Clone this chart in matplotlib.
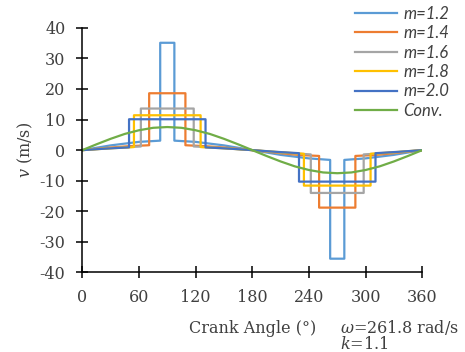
import matplotlib
matplotlib.use("Agg")
import matplotlib.pyplot as plt

plt.rcParams['font.family'] = ['DejaVu Serif']
plt.rcParams['mathtext.fontset'] = 'dejavuserif'
plt.rcParams['axes.unicode_minus'] = False

# crank angle (deg) and velocity (m/s) for each curve
ang_12 = [0, 30, 60, 82.5, 82.5, 97.5, 97.5, 120, 150, 180,
          210, 240, 262.5, 262.5, 277.5, 277.5, 300, 330, 360]
vel_12 = [0, 1.55, 2.7, 3.1, 35.1, 35.1, 3.1, 2.7, 1.55, 0,
          -1.55, -2.7, -3.2, -35.5, -35.5, -3.2, -2.7, -1.55, 0]

ang_14 = [0, 30, 50, 70.8, 70.8, 109.2, 109.2, 130, 150, 180,
          210, 230, 250.8, 250.8, 289.2, 289.2, 310, 330, 360]
vel_14 = [0, 0.85, 1.3, 1.6, 18.6, 18.6, 1.6, 1.3, 0.85, 0,
          -1.0, -1.6, -1.9, -18.8, -18.8, -1.9, -1.6, -1.0, 0]

ang_16 = [0, 30, 62, 62, 118, 118, 150, 180,
          210, 242, 242, 298, 298, 330, 360]
vel_16 = [0, 0.68, 1.2, 13.6, 13.6, 1.2, 0.68, 0,
          -0.8, -1.4, -14.0, -14.0, -1.4, -0.8, 0]

ang_18 = [0, 30, 54.7, 54.7, 125.3, 125.3, 150, 180,
          210, 234.7, 234.7, 305.3, 305.3, 330, 360]
vel_18 = [0, 0.6, 1.0, 11.4, 11.4, 1.0, 0.6, 0,
          -0.7, -1.2, -11.6, -11.6, -1.2, -0.7, 0]

ang_20 = [0, 25, 49.5, 49.5, 130.5, 130.5, 155, 180,
          205, 229.5, 229.5, 310.5, 310.5, 335, 360]
vel_20 = [0, 0.5, 0.9, 10.1, 10.1, 0.9, 0.5, 0,
          -0.55, -1.0, -10.3, -10.3, -1.0, -0.55, 0]

ang_conv = list(range(0, 361, 15))
vel_conv = [0, 1.9, 3.7, 5.3, 6.5, 7.3, 7.55, 7.3, 6.5, 5.3, 3.7, 1.9, 0,
            -1.9, -3.7, -5.3, -6.5, -7.3, -7.55, -7.3, -6.5, -5.3, -3.7, -1.9, 0]

labels = ['m=1.2', 'm=1.4', 'm=1.6', 'm=1.8', 'm=2.0', 'Conv.']
colors = ['#5B9BD5', '#ED7D31', '#A5A5A5', '#FFC000', '#4472C4', '#70AD47']
x_ticks = [0, 60, 120, 180, 240, 300, 360]
y_ticks = [-40, -30, -20, -10, 0, 10, 20, 30, 40]

fig = plt.figure(figsize=(4.65, 3.52), dpi=100)
ax = fig.add_axes([0.177, 0.226, 0.731, 0.695])

series = [(ang_12, vel_12), (ang_14, vel_14), (ang_16, vel_16),
          (ang_18, vel_18), (ang_20, vel_20), (ang_conv, vel_conv)]
for (a, v), lab, c in zip(series, labels, colors):
    ax.plot(a, v, color=c, lw=1.6, label=lab)

ax.set_xlim(0, 360)
ax.set_ylim(-40, 40)
ax.set_xticks(x_ticks)
ax.set_yticks(y_ticks)
for s in ['top', 'right']:
    ax.spines[s].set_visible(False)
for s in ['left', 'bottom']:
    ax.spines[s].set_linewidth(1.1)
ax.tick_params(direction='inout', length=8.4, width=1.1, pad=8,
               labelsize=11.5, labelcolor='#404040')

ax.set_xlabel('Crank Angle (°)', fontsize=11.5, color='#404040', labelpad=10)
ax.set_ylabel('$v$ (m/s)', fontsize=11.5, color='#404040')
ax.yaxis.set_label_coords(-0.14, 0.5)

leg = fig.legend(loc='upper left', bbox_to_anchor=(355 / 465, 1 - 6 / 352),
                 frameon=False, borderpad=0, borderaxespad=0,
                 handlelength=2.5, handletextpad=0.4, labelspacing=0.2,
                 prop={'family': 'Lato', 'style': 'italic', 'size': 12})
for t in leg.get_texts():
    t.set_color('#404040')

fig.text(340 / 465, 1 - 333 / 352, r'$\omega$=261.8 rad/s', fontsize=11.5,
         color='#404040', va='baseline')
fig.text(340 / 465, 1 - 349 / 352, r'$k$=1.1', fontsize=11.5,
         color='#404040', va='baseline')

fig.savefig('out.png', dpi=100)
